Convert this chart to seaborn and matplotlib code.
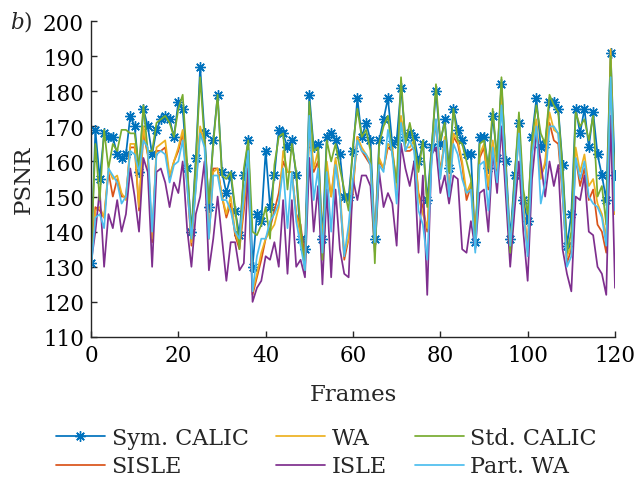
import matplotlib
matplotlib.use("Agg")
import matplotlib.pyplot as plt
import pandas as pd
import seaborn as sns

frames = list(range(121))

sym_calic = [131, 169, 155, 168, 167, 167, 162, 161, 162, 173, 170, 157, 175, 170, 162, 169, 172, 173, 172, 167,
             177, 175, 158, 140, 161, 187, 168, 147, 166, 179, 157, 151, 156, 146, 139, 156, 166, 130, 145, 143,
             163, 147, 156, 169, 168, 164, 166, 156, 138, 135, 179, 164, 165, 138, 167, 168, 166, 162, 150, 150,
             163, 178, 167, 171, 166, 138, 166, 172, 178, 165, 166, 181, 167, 168, 167, 160, 165, 149, 164, 180,
             165, 172, 158, 175, 169, 166, 162, 162, 137, 167, 167, 158, 173, 161, 182, 160, 138, 156, 171, 149,
             143, 167, 178, 164, 165, 177, 177, 175, 159, 136, 145, 175, 168, 175, 164, 174, 162, 156, 149, 191,
             156]
sisle = [131, 147, 146, 144, 157, 150, 155, 150, 150, 164, 164, 146, 168, 162, 137, 163, 163, 164, 155, 160,
         163, 168, 154, 136, 153, 169, 166, 138, 158, 158, 150, 144, 148, 139, 135, 146, 158, 122, 127, 132,
         138, 141, 146, 151, 160, 157, 157, 145, 142, 132, 170, 157, 160, 135, 158, 150, 160, 150, 132, 138,
         152, 167, 163, 161, 159, 137, 160, 158, 164, 163, 154, 172, 163, 163, 164, 151, 147, 140, 161, 171,
         157, 166, 151, 167, 165, 159, 149, 153, 138, 161, 164, 152, 165, 157, 178, 156, 135, 150, 169, 147,
         135, 163, 170, 156, 159, 171, 166, 165, 150, 131, 135, 161, 153, 158, 149, 152, 142, 140, 134, 187,
         145]
wa = [130, 146, 147, 144, 158, 155, 156, 151, 149, 165, 165, 147, 170, 162, 138, 164, 165, 166, 156, 160,
      164, 169, 155, 137, 155, 170, 165, 138, 157, 158, 150, 145, 150, 140, 136, 148, 160, 123, 128, 134,
      138, 140, 142, 147, 163, 157, 157, 145, 139, 129, 172, 158, 163, 136, 160, 150, 161, 152, 134, 138,
      153, 167, 164, 162, 160, 138, 161, 158, 165, 164, 152, 173, 164, 164, 166, 150, 145, 141, 162, 172,
      156, 167, 150, 168, 166, 160, 151, 154, 139, 162, 165, 153, 166, 158, 180, 157, 136, 152, 170, 148,
      134, 164, 172, 155, 160, 174, 169, 168, 152, 133, 136, 164, 157, 162, 153, 155, 148, 145, 138, 192,
      145]
isle = [131, 140, 152, 130, 145, 141, 149, 140, 145, 158, 150, 140, 161, 157, 130, 157, 158, 154, 147, 154,
        151, 160, 141, 130, 145, 150, 160, 129, 138, 150, 138, 126, 137, 137, 129, 131, 158, 120, 124, 126,
        133, 132, 137, 130, 149, 128, 149, 130, 132, 127, 161, 140, 153, 125, 152, 127, 152, 135, 128, 127,
        155, 149, 156, 156, 153, 134, 157, 147, 151, 148, 136, 165, 158, 153, 160, 134, 156, 122, 162, 164,
        151, 156, 148, 156, 155, 135, 134, 143, 135, 151, 152, 140, 163, 151, 170, 150, 130, 146, 160, 140,
        126, 155, 168, 160, 150, 160, 153, 159, 135, 128, 123, 150, 149, 156, 140, 139, 130, 128, 122, 173,
        124]
std_calic = [133, 165, 149, 169, 158, 165, 163, 169, 169, 168, 168, 158, 176, 163, 163, 171, 172, 173, 171, 167,
             175, 179, 160, 138, 160, 184, 166, 148, 165, 179, 156, 155, 157, 147, 135, 158, 166, 140, 139, 142,
             147, 138, 159, 167, 168, 152, 165, 157, 141, 129, 177, 163, 164, 132, 166, 160, 165, 158, 152, 146,
             165, 175, 167, 169, 163, 131, 165, 170, 173, 162, 154, 184, 165, 171, 165, 157, 166, 147, 163, 182,
             166, 171, 157, 175, 166, 165, 160, 155, 136, 165, 166, 158, 175, 160, 184, 158, 134, 155, 174, 152,
             145, 166, 176, 168, 165, 179, 176, 174, 158, 134, 140, 174, 170, 172, 166, 173, 150, 153, 142, 190,
             147]
part_wa = [129, 144, 145, 141, 158, 156, 154, 148, 150, 163, 162, 157, 166, 164, 140, 162, 163, 162, 154, 159,
           160, 166, 153, 138, 152, 168, 164, 138, 156, 156, 149, 149, 146, 140, 138, 150, 163, 123, 133, 138,
           138, 143, 145, 148, 158, 141, 157, 143, 136, 129, 173, 149, 158, 134, 157, 140, 159, 150, 133, 142,
           155, 166, 163, 162, 159, 137, 159, 157, 169, 162, 148, 171, 163, 166, 163, 146, 142, 132, 160, 172,
           155, 166, 150, 165, 162, 155, 151, 152, 134, 159, 160, 146, 164, 154, 176, 155, 136, 151, 168, 146,
           133, 162, 170, 148, 154, 170, 170, 168, 151, 130, 133, 161, 155, 160, 150, 148, 147, 144, 136, 184,
           146]

methods = ["Sym. CALIC", "SISLE", "WA", "ISLE", "Std. CALIC", "Part. WA"]
series = [sym_calic, sisle, wa, isle, std_calic, part_wa]
colors = ["#0072BD", "#D95319", "#EDB120", "#7E2F8E", "#77AC30", "#4DBEEE"]

df = pd.DataFrame({
    "Frames": frames * len(methods),
    "PSNR": [v for s in series for v in s],
    "Method": [m for m, s in zip(methods, series) for _ in s],
})

sns.set_style("ticks")
plt.rcParams["font.family"] = ["DejaVu Serif"]
plt.rcParams["mathtext.fontset"] = "dejavuserif"
plt.rcParams["font.size"] = 16

fig = plt.figure(figsize=(6.35, 4.85), dpi=100)
ax = fig.add_axes([0.1433, 0.3031, 0.8252, 0.6515])

for m, c in zip(methods, colors):
    sub = df[df["Method"] == m]
    kw = {}
    if m == "Sym. CALIC":
        kw = dict(marker=(8, 2, 0), markersize=7.5, markeredgecolor=c, markeredgewidth=1.0)
    sns.lineplot(data=sub, x="Frames", y="PSNR", color=c, linewidth=1.25,
                 ax=ax, legend=False, **kw)

ax.set_xlim(0, 120)
ax.set_ylim(110, 200)
ax.set_xticks(range(0, 121, 20))
ax.set_yticks(range(110, 201, 10))
ax.tick_params(direction="in", length=4, width=1.0, colors="#262626", labelcolor="black",
               labelsize=15.5, top=False, right=False, pad=5)
for side in ("top", "right"):
    ax.spines[side].set_visible(False)
for side in ("left", "bottom"):
    ax.spines[side].set_color("#262626")
    ax.spines[side].set_linewidth(1.0)

ax.set_xlabel("Frames", fontsize=16.5, labelpad=12)
ax.set_ylabel("PSNR", fontsize=16.5, labelpad=6)

fig.text(0.016, 0.955, r"$\mathit{b}$)", fontsize=15.5, va="center")

handles = ax.get_lines()[:len(methods)]
fig.legend(handles, methods, ncol=3, loc="center", bbox_to_anchor=(0.514, 0.066),
           frameon=False, fontsize=16, handlelength=2.2, handletextpad=0.3,
           columnspacing=1.25, labelspacing=0.3, borderpad=0.2)

fig.savefig("out.png", dpi=100)
